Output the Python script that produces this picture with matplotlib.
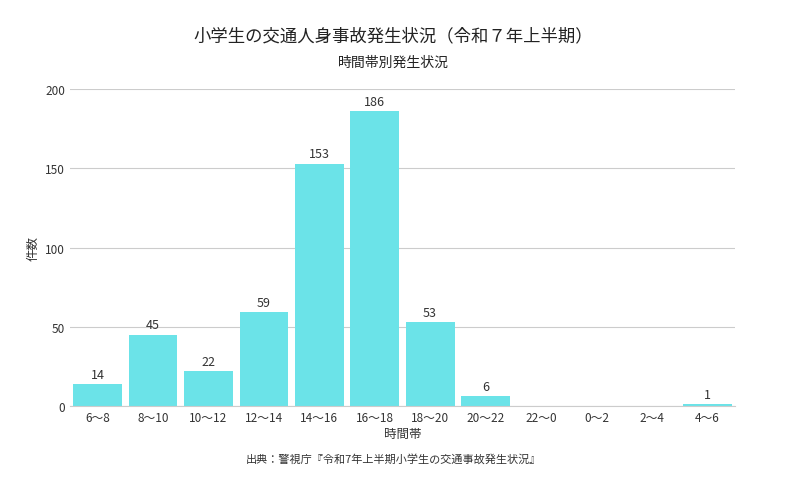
import matplotlib
matplotlib.use("Agg")
import matplotlib.pyplot as plt

plt.rcParams["font.family"] = "Noto Sans CJK JP"

categories = ["6〜8", "8〜10", "10〜12", "12〜14", "14〜16", "16〜18", "18〜20", "20〜22", "22〜0", "0〜2", "2〜4", "4〜6"]
values = [14, 45, 22, 59, 153, 186, 53, 6, 0, 0, 0, 1]
yticks = [0, 50, 100, 150, 200]

fig = plt.figure(figsize=(7.86, 4.85), dpi=100)
ax = fig.add_axes([0.089, 0.161, 0.846, 0.653])
x = range(len(categories))
bars = ax.bar(x, values, width=0.88, color="#6be3e8", zorder=2)
for xi, v in zip(x, values):
    if v > 0:
        ax.text(xi, v + 2, str(v), ha="center", va="bottom", fontsize=9, color="#333333")
ax.set_xlim(-0.5, len(categories) - 0.5)
ax.set_ylim(0, 200)
ax.set_yticks(yticks)
ax.set_xticks(list(x))
ax.set_xticklabels(categories)
ax.tick_params(axis="both", length=0, labelsize=8.5, colors="#333333")
ax.grid(axis="y", color="#cccccc", linewidth=0.8, zorder=0)
for s in ["top", "right", "left"]:
    ax.spines[s].set_visible(False)
ax.spines["bottom"].set_color("#cccccc")
ax.set_xlabel("時間帯", fontsize=9, color="#333333", labelpad=2)
ax.set_ylabel("件数", fontsize=9, color="#333333")
fig.text(0.5, 0.915, "小学生の交通人身事故発生状況（令和７年上半期）", ha="center", fontsize=12.5, color="#222222")
fig.text(0.5, 0.862, "時間帯別発生状況", ha="center", fontsize=10, color="#222222")
fig.text(0.5, 0.045, "出典：警視庁『令和7年上半期小学生の交通事故発生状況』", ha="center", fontsize=8, color="#333333")
fig.savefig("out.png", dpi=100)
